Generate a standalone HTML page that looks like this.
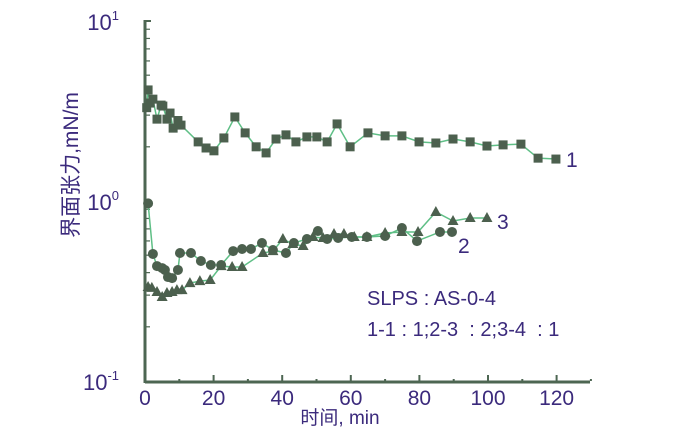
<!DOCTYPE html>
<html><head><meta charset="utf-8"><style>
html,body{margin:0;padding:0;background:#fff;}
svg{display:block;}
text{font-family:"Liberation Sans","Noto Sans CJK SC",sans-serif;fill:#3b2a7c;}
</style></head><body>
<svg id="chart" width="689" height="429" viewBox="0 0 689 429" xmlns="http://www.w3.org/2000/svg">
<g id="axes"></g>
<g id="series"></g>
<text x="78" y="165" font-size="21" text-anchor="middle" transform="rotate(-90 78 165)">界面张力,mN/m</text>
<text x="340" y="424" font-size="19" text-anchor="middle" font-family="Liberation Mono, Noto Sans CJK SC, monospace">时间, min</text>
<text x="566" y="167" font-size="21">1</text>
<text x="458" y="253" font-size="21">2</text>
<text x="497" y="229" font-size="21">3</text>
<text x="367" y="305" font-size="20">SLPS : AS-0-4</text>
<text x="367" y="336" font-size="20" xml:space="preserve">1-1 : 1;2-3  : 2;3-4  : 1</text>
</svg>
<script>
const xTicks=[0,20,40,60,80,100,120];
const yDecades=[-1,0,1];
const t1=[0.5,0.9,1.5,2.3,3.5,4.7,5.2,6.4,7.3,8.2,9.6,10.5,15.5,17.8,20.1,23,26.2,29.2,32.4,35.3,38.2,41.1,44,47.2,50.1,53.1,56,59.8,65,70,74.9,79.9,84.8,89.8,94.8,99.7,104.4,109.6,114.6,119.8];
const v1=[3.3,4.14,3.5,3.68,2.85,3.41,3.37,2.85,3.08,2.54,2.8,2.64,2.13,1.97,1.9,2.24,2.93,2.39,2.0,1.85,2.21,2.33,2.13,2.27,2.27,2.13,2.68,2.0,2.39,2.3,2.3,2.13,2.1,2.21,2.13,2.02,2.05,2.07,1.73,1.71];
const t2=[0.9,2.3,3.5,5,5.8,6.7,7.9,9.6,10.2,13.4,16.3,19.2,22.2,25.7,28.3,30.9,34.1,37.3,41.1,43.4,47.2,50.4,53.1,56.3,60.3,64.7,70,74.9,79.3,86,89.5];
const v2=[0.97,0.508,0.435,0.424,0.414,0.378,0.373,0.414,0.514,0.514,0.464,0.441,0.441,0.527,0.541,0.541,0.584,0.534,0.514,0.584,0.615,0.681,0.615,0.623,0.631,0.631,0.639,0.708,0.599,0.673,0.673];
const t3=[0.9,2.0,3.5,5,6.4,7.9,9.3,10.8,13.1,16,19,22.2,25.4,28.3,34.4,37.3,40.2,43.1,46.1,49,51.9,55.1,58,61,64.7,70,74.9,79.6,84.8,89.8,94.8,99.7];
const v3=[0.333,0.329,0.312,0.293,0.308,0.312,0.32,0.32,0.35,0.359,0.364,0.435,0.43,0.43,0.514,0.527,0.615,0.577,0.562,0.631,0.623,0.656,0.656,0.631,0.631,0.664,0.673,0.673,0.869,0.774,0.804,0.804];

const X0=145,PX=3.43,Y0=201,DEC=180;
function xs(t){return X0+t*PX;}
function ys(v){return Y0-Math.log10(v)*DEC;}
const NS="http://www.w3.org/2000/svg";
function mk(tag,attrs,parent){const e=document.createElementNS(NS,tag);for(const k in attrs)e.setAttribute(k,attrs[k]);parent.appendChild(e);return e;}
const axes=document.getElementById('axes'),ser=document.getElementById('series');
const AX="#4d6652";
let l=mk('line',{x1:xs(0),y1:ys(0.1)+1,x2:590,y2:ys(0.1)+1,stroke:AX,'stroke-width':3},axes);


l=mk('line',{x1:xs(0),y1:ys(10)-1,x2:xs(0),y2:ys(0.1)+2,stroke:AX,'stroke-width':3},axes);


mk('line',{x1:xs(0),y1:ys(10),x2:xs(0)+6,y2:ys(10),stroke:AX,'stroke-width':2},axes);
for(let t=0;t<=130;t+=10){
  const maj=t%20===0;
  mk('line',{x1:xs(t),y1:ys(0.1),x2:xs(t),y2:ys(0.1)-(maj?6:2),stroke:AX,'stroke-width':2},axes);
}
xTicks.forEach(t=>{
  const tx=mk('text',{x:xs(t),y:405,'font-size':21,'text-anchor':'middle'},axes);
  tx.textContent=t;
  
  
});
for(let d=-1;d<1;d++){for(let m=2;m<=9;m++){const y=ys(m*Math.pow(10,d));mk('line',{x1:xs(0),y1:y,x2:xs(0)+5,y2:y,stroke:AX,'stroke-width':1.2},axes);}}
yDecades.forEach(d=>{
  const tx=mk('text',{x:119,y:ys(Math.pow(10,d))+9,'font-size':22,'text-anchor':'end'},axes);
  tx.textContent='10';
  const sp=mk('tspan',{dy:-10,'font-size':13},tx);sp.textContent=(d<0?'-':'')+Math.abs(d);
  
  
});
const LC="#5fbf86",MC="#4c604e";
function line(ts,vs,name){
  const p=mk('polyline',{points:ts.map((t,i)=>xs(t)+','+ys(vs[i])).join(' '),fill:'none',stroke:LC,'stroke-width':1.5},ser);
  
  
}
line(t1,v1,'series-1-line');line(t2,v2,'series-2-line');line(t3,v3,'series-3-line');
t1.forEach((t,i)=>{const r=mk('rect',{x:xs(t)-4.5,y:ys(v1[i])-4.5,width:9,height:9,fill:MC},ser);
  
  });
t2.forEach((t,i)=>{const c=mk('circle',{cx:xs(t),cy:ys(v2[i]),r:5,fill:MC},ser);
  
  });
t3.forEach((t,i)=>{const x=xs(t),y=ys(v3[i]);const p=mk('polygon',{points:`${x},${y-6} ${x-5.5},${y+4} ${x+5.5},${y+4}`,fill:MC},ser);
  
  });
</script>
</body></html>
